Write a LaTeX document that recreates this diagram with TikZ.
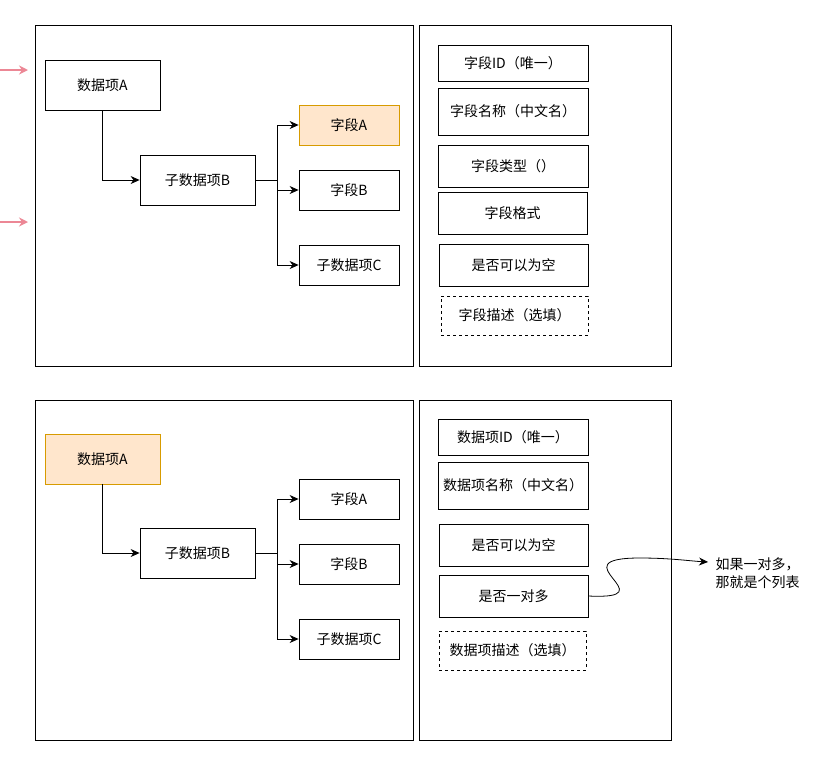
\documentclass[tikz,border=0pt]{standalone}
\usepackage{fontspec}
\newfontfamily\cjk{Noto Sans CJK SC}
\usetikzlibrary{arrows.meta}
\definecolor{hlFill}{HTML}{FFE6CC}
\definecolor{hlDraw}{HTML}{D79B00}
\definecolor{pinkLine}{HTML}{EC8795}
\tikzstyle{every node}=[font=\cjk\fontsize{14}{17}\selectfont]
\tikzstyle{panel}=[draw=black,line width=0.8pt]
\tikzstyle{box}=[draw=black,line width=0.8pt,inner sep=0pt]
\tikzstyle{big}=[box,minimum width=115,minimum height=50]
\tikzstyle{small}=[box,minimum width=100,minimum height=40]
\tikzstyle{hl}=[fill=hlFill,draw=hlDraw]
\tikzstyle{opt}=[dashed]
\tikzstyle{link}=[draw=black,line width=0.8pt,-{Stealth[length=9pt,width=8pt]}]
\tikzstyle{pinkArrow}=[draw=pinkLine,line width=1.6pt,-{Stealth[length=9pt,width=9pt]}]

\begin{document}
\begin{tikzpicture}[x=1pt,y=-1pt]
  \useasboundingbox (0,0) rectangle (831,764);

  % upper part
  \draw[panel] (35,25) rectangle (413,366);
  \draw[panel] (419,25) rectangle (671,366);

  \coordinate (inOneS) at (0,70);
  \coordinate (inOneE) at (28,70);
  \coordinate (inTwoS) at (0,222);
  \coordinate (inTwoE) at (28,222);
  \draw[pinkArrow] (inOneS) -- (inOneE);
  \draw[pinkArrow] (inTwoS) -- (inTwoE);

  \node[big] (itemA) at (102.5,85) {数据项A};
  \node[big] (subB) at (197.5,180) {子数据项B};
  \node[small,hl] (fieldA) at (349,125) {字段A};
  \node[small] (fieldB) at (349,190) {字段B};
  \node[small] (subC) at (349,265) {子数据项C};

  \draw[link] (itemA.south) |- (subB.west);
  \draw[link] (subB.east) -- ++(22,0) |- (fieldA.west);
  \draw[link] (subB.east) -- ++(22,0) |- (fieldB.west);
  \draw[link] (subB.east) -- ++(22,0) |- (subC.west);

  \node[box,minimum width=150,minimum height=36] (fldId) at (513,63) {字段ID（唯一）};
  \node[box,minimum width=150,minimum height=47] (fldName) at (513,111.5) {字段名称（中文名）};
  \node[box,minimum width=150,minimum height=42] (fldType) at (513,166) {字段类型（）};
  \node[box,minimum width=149,minimum height=42] (fldFmt) at (512.5,213) {字段格式};
  \node[box,minimum width=149,minimum height=42] (fldNull) at (513.5,265) {是否可以为空};
  \node[box,opt,minimum width=147,minimum height=39] (fldDesc) at (514.5,315.5) {字段描述（选填）};

  % lower part
  \draw[panel] (35,400) rectangle (413,740);
  \draw[panel] (419,400) rectangle (671,740);

  \node[big,hl] (itemA2) at (102.5,459) {数据项A};
  \node[big] (subB2) at (197.5,553) {子数据项B};
  \node[small] (fieldA2) at (349,499) {字段A};
  \node[small] (fieldB2) at (349,564) {字段B};
  \node[small] (subC2) at (349,639) {子数据项C};

  \draw[link] (itemA2.south) |- (subB2.west);
  \draw[link] (subB2.east) -- ++(22,0) |- (fieldA2.west);
  \draw[link] (subB2.east) -- ++(22,0) |- (fieldB2.west);
  \draw[link] (subB2.east) -- ++(22,0) |- (subC2.west);

  \node[box,minimum width=150,minimum height=36] (itemId) at (513,437) {数据项ID（唯一）};
  \node[box,minimum width=150,minimum height=47] (itemName) at (513,485.5) {数据项名称（中文名）};
  \node[box,minimum width=149,minimum height=42] (itemNull) at (513.5,545) {是否可以为空};
  \node[box,minimum width=149,minimum height=42] (itemMulti) at (513.5,596) {是否一对多};
  \node[box,opt,minimum width=147,minimum height=39] (itemDesc) at (512.5,650.5) {数据项描述（选填）};

  \node[align=left,anchor=west,font=\cjk\fontsize{14}{18}\selectfont] (note) at (712,573) {如果一对多，\\那就是个列表};
  \coordinate (noteTip) at (708,562);
  \draw[link] (itemMulti.east) .. controls (670,600) and (555,558) .. (640,558)
    .. controls (670,558) and (690,561) .. (noteTip);
\end{tikzpicture}
\end{document}
